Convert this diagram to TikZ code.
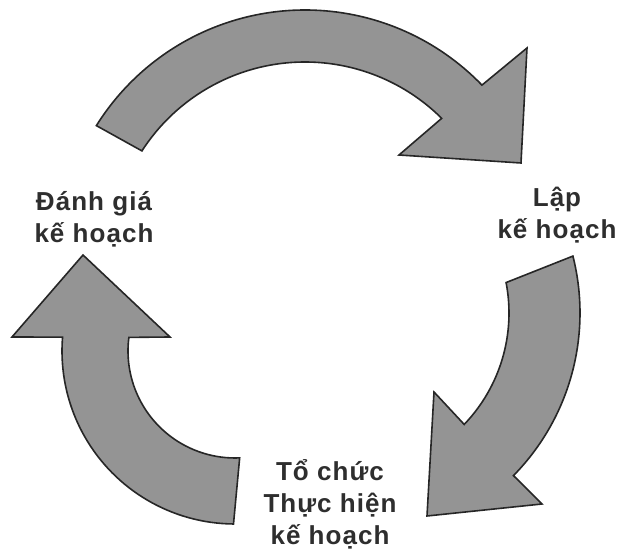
\documentclass[tikz,border=0pt]{standalone}
\usepackage{fontspec}
\setmainfont{Liberation Sans}[LetterSpace=4]
\usepackage{tikz}
\usetikzlibrary{calc,positioning}

\begin{document}
\begin{tikzpicture}[x=1pt,y=1pt,
    band/.style={draw=black!85,line width=1.6pt,fill=black!42,line join=miter},
    lbl/.style={align=center,text=black!82,font=\bfseries\fontsize{26}{32}\selectfont,inner sep=0pt}]
    \useasboundingbox (0,0) rectangle (619,554);
    % Centres of the three bands
    \coordinate (ctop) at (305,298);
    \coordinate (cright) at (348,241);
    \coordinate (cleft) at (235,203);
    % Top arrow
    \draw[band] ($(ctop)+(148:246)$) arc[start angle=148,end angle=44,radius=246]
        -- (527,506) -- (521,391) -- (399,399)
        -- ($(ctop)+(45.2:194)$) arc[start angle=45.2,end angle=147.2,radius=194] -- cycle;
    % Right arrow
    \draw[band] ($(cright)+(14.2:232)$) arc[start angle=14.2,end angle=-44.5,radius=232]
        -- (542,50) -- (427,38) -- (434,162)
        -- ($(cright)+(-43.8:161)$) arc[start angle=-43.8,end angle=10.9,radius=161] -- cycle;
    % Left arrow
    \draw[band] ($(cleft)+(-90.5:173)$) arc[start angle=-90.5,end angle=-184.6,radius=173]
        -- (12,217) -- (83,299) -- (170,217)
        -- ($(cleft)+(-187.3:107)$) arc[start angle=-187.3,end angle=-87.5,radius=107] -- cycle;
    % Labels
    \node[lbl] (danhgia) at (94,335) {Đánh giá\\kế hoạch};
    \node[lbl] (lap) at (557,339) {Lập\\kế hoạch};
    \node[lbl] (tochuc) at (330,50) {Tổ chức\\Thực hiện\\kế hoạch};
\end{tikzpicture}
\end{document}
